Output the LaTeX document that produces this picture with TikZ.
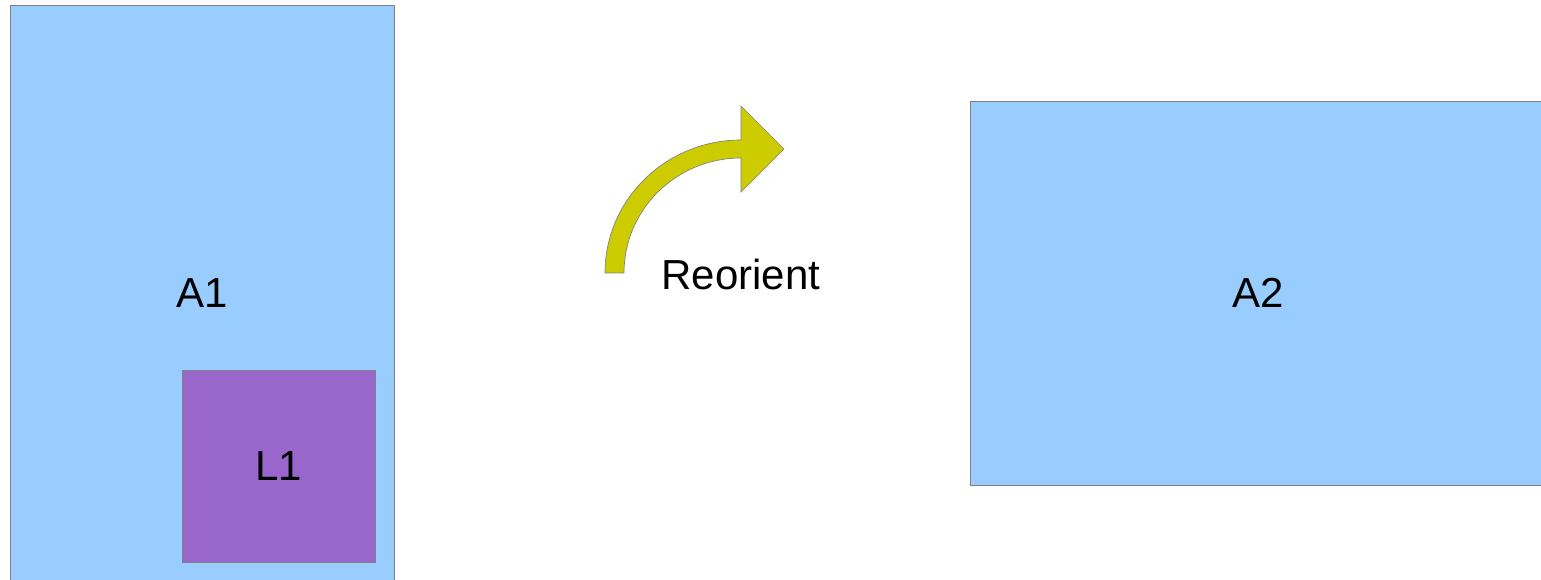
\documentclass[tikz,border=0pt]{standalone}
\usepackage{fontspec}
\setmainfont{Liberation Sans}
\usepackage{tikz}
\definecolor{areablue}{HTML}{99CCFF}
\definecolor{layerpurple}{HTML}{9966CC}
\definecolor{arrowyellow}{HTML}{CCCC00}
\definecolor{edgegray}{HTML}{808080}

\begin{document}
\begin{tikzpicture}[x=0.75pt,y=-0.75pt,
    area/.style={draw=edgegray,line width=0.7pt,fill=areablue,inner sep=0pt},
    layer/.style={draw=edgegray,line width=0.7pt,fill=layerpurple,inner sep=0pt},
    every node/.append style={font=\fontsize{31.5}{36}\selectfont}]
    \useasboundingbox (0,0) rectangle (1541,580);
    \clip (0,0) rectangle (1541,580);

    % portrait area with its layer
    \node[area,minimum width=288pt,minimum height=432pt] (A1) at (202,293) {A1};
    \node[layer,minimum width=144.75pt,minimum height=144pt] (L1) at (278.5,466) {L1};

    % curved arrow
    \filldraw[fill=arrowyellow,draw=edgegray,line width=0.5pt]
        (605,273) arc[start angle=180,end angle=90,x radius=102pt,y radius=99.75pt]
        -- (741,106) -- (784,149) -- (741,192) -- (741,158)
        arc[start angle=90,end angle=180,x radius=87.75pt,y radius=86.25pt]
        -- cycle;
    \node (reorient) at (741,274) {Reorient};

    % landscape area
    \node[area,minimum width=432pt,minimum height=288pt] (A2) at (1258,293) {A2};
\end{tikzpicture}
\end{document}
